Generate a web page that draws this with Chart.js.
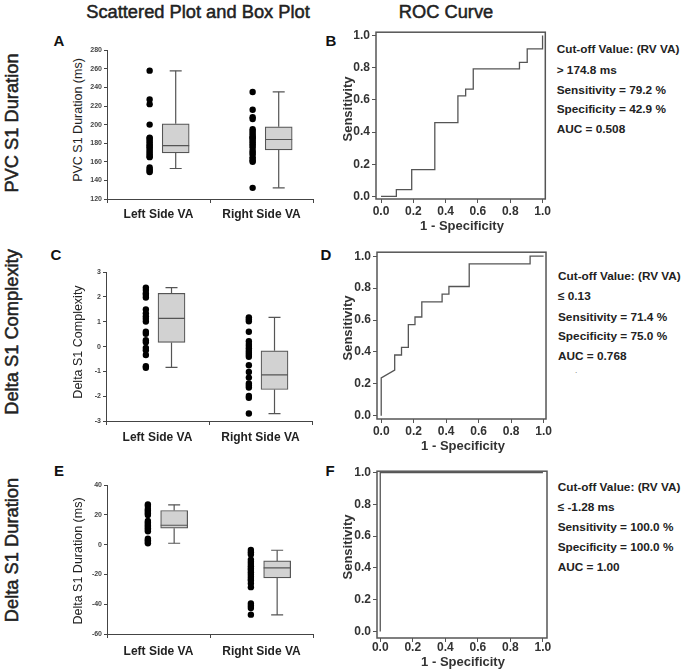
<!DOCTYPE html>
<html><head><meta charset="utf-8">
<script src="https://cdn.jsdelivr.net/npm/chart.js@4.4.0/dist/chart.umd.min.js"></script>
<style>
body{margin:0;background:#fff;}
#root{position:relative;width:685px;height:670px;overflow:hidden;background:#fff;font-family:"Liberation Sans",Arial,sans-serif;color:#222;}
canvas{position:absolute;}
.t{position:absolute;white-space:nowrap;line-height:1;}
</style></head><body><div id="root"></div>
<script>
// ---------- DATA ----------
const groups = ['Left Side VA', 'Right Side VA'];

// Panel A: PVC S1 Duration (ms)
const pvcLeft  = [258, 227, 222, 200, 186, 185, 183, 181, 179, 177, 176, 174, 172, 170, 168, 166, 165, 154, 152, 150, 149];
const pvcRight = [235, 216, 208, 206, 195, 193, 191, 189, 187, 186, 185, 183, 181, 179, 177, 175, 172, 170, 168, 165, 163, 161, 160, 132];
const pvcQ1  = [169.6, 172.8];
const pvcMed = [177.5, 184.0];
const pvcQ3  = [200.9, 197.6];
const pvcLo  = [152.8, 132.0];
const pvcHi  = [257.8, 235.2];
const pvcTicks = [120, 140, 160, 180, 200, 220, 240, 260, 280];

// Panel C: Delta S1 Complexity
const cplxLeft  = [2.38, 2.28, 2.15, 2.08, 1.98, 1.50, 1.34, 1.22, 1.12, 1.01, 0.60, 0.52, 0.26, 0.18, -0.05, -0.15, -0.34, -0.79, -0.85];
const cplxRight = [1.18, 1.10, 1.02, 0.60, 0.22, 0.10, 0.02, -0.07, -0.17, -0.25, -0.33, -0.41, -0.75, -1.02, -1.25, -1.49, -1.57, -1.65, -1.99, -2.06, -2.70];
const cplxQ1  = [0.17, -1.73];
const cplxMed = [1.14, -1.14];
const cplxQ3  = [2.15, -0.17];
const cplxLo  = [-0.84, -2.70];
const cplxHi  = [2.38, 1.18];
const cplxTicks = [-3, -2, -1, 0, 1, 2, 3];

// Panel E: Delta S1 Duration (ms)
const durLeft  = [27, 26, 24, 23, 22, 21, 20, 16, 15, 14, 13, 12, 11, 10, 9, 4, 3, 2, 1];
const durRight = [-3.5, -5, -6.5, -10, -11.5, -13, -14.5, -16, -17, -18.5, -20, -21.5, -23, -24, -26, -28.5, -39.5, -41, -42.5, -47];
const durQ1  = [11.1, -22.3];
const durMed = [13.1, -15.6];
const durQ3  = [23.0, -10.9];
const durLo  = [1.0, -47.2];
const durHi  = [26.8, -3.7];
const durTicks = [-60, -40, -20, 0, 20, 40];

// ROC curves (1 - specificity, sensitivity)
const rocBx = [0, 0.095, 0.095, 0.190, 0.190, 0.333, 0.333, 0.476, 0.476, 0.524, 0.524, 0.571, 0.571, 0.857, 0.857, 0.905, 0.905, 1.0, 1.0];
const rocBy = [0, 0, 0.042, 0.042, 0.167, 0.167, 0.458, 0.458, 0.625, 0.625, 0.667, 0.667, 0.792, 0.792, 0.833, 0.833, 0.917, 0.917, 1.0];
const rocDx = [0, 0, 0.083, 0.083, 0.125, 0.125, 0.167, 0.167, 0.208, 0.208, 0.250, 0.250, 0.375, 0.375, 0.417, 0.417, 0.542, 0.542, 0.917, 0.917, 1.0];
const rocDy = [0, 0.238, 0.286, 0.381, 0.381, 0.429, 0.429, 0.571, 0.571, 0.619, 0.619, 0.714, 0.714, 0.762, 0.762, 0.810, 0.810, 0.952, 0.952, 1.0, 1.0];
const rocFx = [0, 0, 1.0];
const rocFy = [0, 1.0, 1.0];
const rocTicks = [0, 0.2, 0.4, 0.6, 0.8, 1.0];

const rocTextB = ['Cut-off Value: (RV VA)', '> 174.8 ms', 'Sensitivity = 79.2 %', 'Specificity = 42.9 %', 'AUC = 0.508'];
const rocTextD = ['Cut-off Value: (RV VA)', '\u2264 0.13', 'Sensitivity = 71.4 %', 'Specificity = 75.0 %', 'AUC = 0.768'];
const rocTextF = ['Cut-off Value: (RV VA)', '\u2264 -1.28 ms', 'Sensitivity = 100.0 %', 'Specificity = 100.0 %', 'AUC = 1.00'];

// ---------- RENDER ----------
const FONT = '"Liberation Sans", Arial, sans-serif';
Chart.defaults.font.family = FONT;
const root = document.getElementById('root');

function txt(s, x, y, o = {}) {
  const d = document.createElement('div');
  d.className = 't';
  d.textContent = s;
  d.style.left = x + 'px';
  d.style.top = y + 'px';
  d.style.fontSize = (o.size || 12) + 'px';
  d.style.fontWeight = o.bold ? 'bold' : 'normal';
  d.style.color = o.color || '#222';
  const anchor = o.align === 'left' ? 'translate(0,-50%)' : 'translate(-50%,-50%)';
  d.style.transform = anchor + (o.rot ? ' rotate(-90deg)' : '');
  if (o.stroke) d.style.webkitTextStroke = o.stroke;
  root.appendChild(d);
}

function mkCanvas(left, top, w, h) {
  const cv = document.createElement('canvas');
  cv.width = w; cv.height = h;
  cv.style.left = left + 'px'; cv.style.top = top + 'px';
  cv.style.width = w + 'px'; cv.style.height = h + 'px';
  root.appendChild(cv);
  return cv;
}

const PX_PER_UNIT = 103;
const BOX_PX = 27;

function boxChart(c) {
  const cv = mkCanvas(c.left, c.top, 233, 180);
  const boxHalf = (BOX_PX / 2) / PX_PER_UNIT;
  const capHalf = 6 / PX_PER_UNIT;
  const ds = [];
  ds.push({
    type: 'scatter',
    data: c.points.flatMap((arr, gi) => arr.map(v => ({x: gi + 1 + c.dotOff, y: v}))),
    pointRadius: 3.2, pointBackgroundColor: '#000', pointBorderWidth: 0, order: 0
  });
  ds.push({
    type: 'bar',
    data: c.q1.map((q, gi) => ({x: gi + 1 + c.boxOff, y: [q, c.q3[gi]]})),
    backgroundColor: '#d2d2d2', borderColor: '#555', borderWidth: 1.2, borderSkipped: false,
    barThickness: BOX_PX, order: 2
  });
  c.q1.forEach((q, gi) => {
    const xc = gi + 1 + c.boxOff;
    const segs = [
      [[xc, c.lo[gi]], [xc, q]],
      [[xc, c.q3[gi]], [xc, c.hi[gi]]],
      [[xc - capHalf, c.lo[gi]], [xc + capHalf, c.lo[gi]]],
      [[xc - capHalf, c.hi[gi]], [xc + capHalf, c.hi[gi]]],
      [[xc - boxHalf, c.med[gi]], [xc + boxHalf, c.med[gi]]]
    ];
    segs.forEach(s => ds.push({
      type: 'scatter', showLine: true, data: s.map(p => ({x: p[0], y: p[1]})),
      borderColor: '#555', borderWidth: 1.2, pointRadius: 0, order: 1
    }));
  });
  new Chart(cv, {
    type: 'scatter',
    data: {datasets: ds},
    options: {
      responsive: false, animation: false, devicePixelRatio: 1,
      layout: {padding: {top: 6, right: 5, left: 0, bottom: 0}},
      plugins: {legend: {display: false}, tooltip: {enabled: false}},
      scales: {
        x: {
          type: 'linear', min: 0.5, max: 2.5, bounds: 'data', offset: false,
          afterBuildTicks: s => { s.ticks = [1, 2].map(v => ({value: v})); },
          afterFit: s => { s.height = 25; },
          ticks: {callback: v => groups[v - 1], font: {size: 12, weight: 'bold'}, color: '#222',
                  padding: c.xPad, maxRotation: 0, autoSkip: false},
          grid: {drawOnChartArea: false, drawTicks: true, tickLength: 4, color: '#444'},
          border: {display: true, color: '#444', width: 1}
        },
        y: {
          type: 'linear', min: c.ticks[0], max: c.ticks[c.ticks.length - 1], bounds: 'data',
          afterBuildTicks: s => { s.ticks = c.ticks.map(v => ({value: v})); },
          afterFit: s => { s.width = 22; },
          ticks: {font: {size: 7, weight: 'bold'}, color: '#444', padding: 2},
          grid: {drawOnChartArea: false, drawTicks: true, tickLength: 3, color: '#444'},
          border: {display: true, color: '#444', width: 1}
        }
      }
    }
  });
}

const framePlugin = {
  id: 'frame',
  afterDatasetsDraw(chart) {
    const {ctx, chartArea: a} = chart;
    ctx.save();
    ctx.strokeStyle = '#555';
    ctx.lineWidth = 1.5;
    ctx.strokeRect(a.left, a.top, a.right - a.left, a.bottom - a.top);
    ctx.restore();
  }
};

function rocChart(c) {
  const cv = mkCanvas(c.left, c.top, 202, 196);
  new Chart(cv, {
    type: 'scatter',
    data: {datasets: [{
      data: c.x.map((v, i) => ({x: v, y: c.y[i]})),
      showLine: true, borderColor: '#555', borderWidth: 1.3, pointRadius: 0, tension: 0
    }]},
    plugins: [framePlugin],
    options: {
      responsive: false, animation: false, devicePixelRatio: 1,
      layout: {padding: {top: 7, right: 6, left: 0, bottom: 0}},
      plugins: {legend: {display: false}, tooltip: {enabled: false}},
      scales: {
        x: {
          type: 'linear', min: c.xr[0], max: c.xr[1], bounds: 'data',
          afterBuildTicks: s => { s.ticks = rocTicks.map(v => ({value: v})); },
          afterFit: s => { s.height = 20; },
          ticks: {callback: v => v.toFixed(1), font: {size: 12, weight: 'bold'}, color: '#333',
                  padding: c.xPad, maxRotation: 0, autoSkip: false},
          grid: {drawOnChartArea: false, drawTicks: true, tickLength: 4, color: '#555'},
          border: {display: false}
        },
        y: {
          type: 'linear', min: c.yr[0], max: c.yr[1], bounds: 'data',
          afterBuildTicks: s => { s.ticks = rocTicks.map(v => ({value: v})); },
          afterFit: s => { s.width = 26; },
          ticks: {callback: v => v.toFixed(1), font: {size: 12, weight: 'bold'}, color: '#333', padding: 2},
          grid: {drawOnChartArea: false, drawTicks: true, tickLength: 4, color: '#555'},
          border: {display: false}
        }
      }
    }
  });
}

// Box/scatter panels
boxChart({left: 85, top: 44, points: [pvcLeft, pvcRight], q1: pvcQ1, med: pvcMed, q3: pvcQ3, lo: pvcLo, hi: pvcHi,
          ticks: pvcTicks, dotOff: -0.086, boxOff: 0.167, xPad: 4});
boxChart({left: 84, top: 266, points: [cplxLeft, cplxRight], q1: cplxQ1, med: cplxMed, q3: cplxQ3, lo: cplxLo, hi: cplxHi,
          ticks: cplxTicks, dotOff: -0.113, boxOff: 0.136, xPad: 5});
boxChart({left: 85, top: 479, points: [durLeft, durRight], q1: durQ1, med: durMed, q3: durQ3, lo: durLo, hi: durHi,
          ticks: durTicks, dotOff: -0.103, boxOff: 0.152, xPad: 6});

// ROC panels
rocChart({left: 350, top: 23, x: rocBx, y: rocBy, xr: [-0.031, 1.017], yr: [-0.016, 1.02], xPad: 1});
rocChart({left: 351, top: 243, x: rocDx, y: rocDy, xr: [-0.026, 1.015], yr: [-0.02, 1.025], xPad: 1});
rocChart({left: 351, top: 462, x: rocFx, y: rocFy, xr: [-0.02, 1.025], yr: [-0.041, 1.009], xPad: -2});

// Column titles
txt('Scattered Plot and Box Plot', 198, 12, {size: 18.3, stroke: '0.5px #222'});
txt('ROC Curve', 446, 12, {size: 18.3, stroke: '0.5px #222'});

// Row labels
txt('PVC S1 Duration', 12, 122.5, {size: 18.3, rot: true, stroke: '0.5px #222'});
txt('Delta S1 Complexity', 12, 331.5, {size: 18.3, rot: true, stroke: '0.5px #222'});
txt('Delta S1 Duration', 12, 550, {size: 18.3, rot: true, stroke: '0.5px #222'});

// Panel letters
[['A', 59, 40], ['B', 331, 40], ['C', 56, 254], ['D', 326, 254], ['E', 59, 470], ['F', 330, 470]]
  .forEach(p => txt(p[0], p[1], p[2], {size: 15, bold: true, color: '#111'}));

// Box plot y titles
txt('PVC S1 Duration (ms)', 78, 120, {size: 12.5, rot: true});
txt('Delta S1 Complexity', 78, 341.7, {size: 12.5, rot: true});
txt('Delta S1 Duration (ms)', 78, 561, {size: 12.5, rot: true});

// ROC axis titles
[109, 328, 547].forEach(y => txt('Sensitivity', 346.7, y, {size: 13, bold: true, rot: true, color: '#333'}));
[[462, 225], [463, 445], [463, 661]].forEach(p => txt('1 - Specificity', p[0], p[1], {size: 13, bold: true, color: '#333'}));

// ROC annotations
const annYB = [50, 71, 90.7, 110, 130];
const annYD = [276.7, 297.3, 318.3, 337.3, 356.7];
const annYF = [488.3, 508.3, 528.3, 548.3, 568.3];
rocTextB.forEach((s, i) => txt(s, 556.7, annYB[i], {size: 11.8, bold: true, align: 'left'}));
rocTextD.forEach((s, i) => txt(s, 558, annYD[i], {size: 11.8, bold: true, align: 'left'}));
rocTextF.forEach((s, i) => txt(s, 557.7, annYF[i], {size: 11.8, bold: true, align: 'left'}));
txt('.', 576, 371, {size: 8, color: '#666'});
</script></body></html>
